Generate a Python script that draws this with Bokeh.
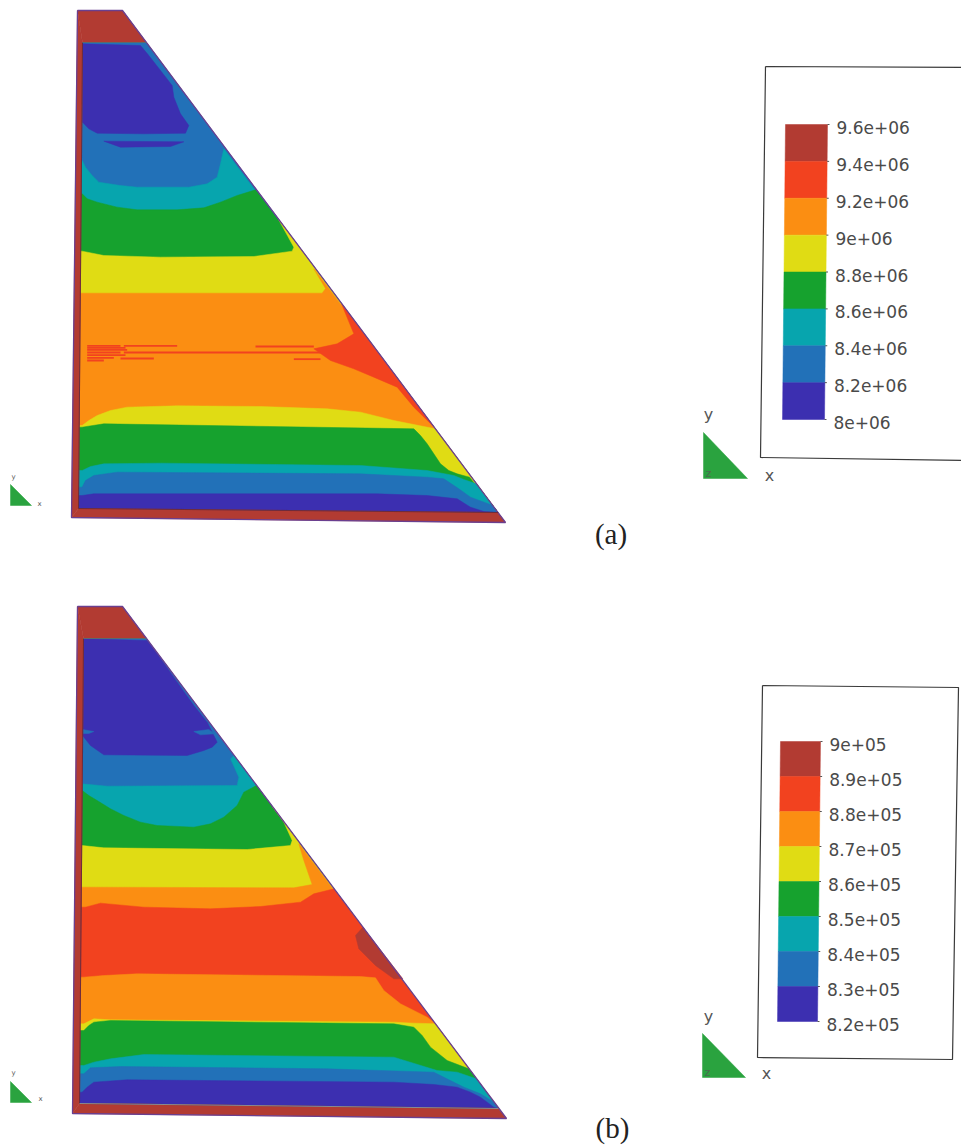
from bokeh.plotting import figure
from bokeh.models import Range1d, ColumnDataSource
from bokeh.core.properties import value
from bokeh.embed import file_html
from bokeh.resources import INLINE

W, H = 961, 1145

# Colour classes, lowest to highest
DARK, BLUE, TEAL, GREEN, YELLOW, ORANGE, RED, BROWN = (
    "#3c2fb0", "#2271b8", "#07a5ae", "#16a22e", "#e0dc14", "#fb8e12", "#f2421f", "#b23b32")
band_colors = [BROWN, RED, ORANGE, YELLOW, GREEN, TEAL, BLUE, DARK]

# Legend scales
ticks_a = [9.6e6, 9.4e6, 9.2e6, 9.0e6, 8.8e6, 8.6e6, 8.4e6, 8.2e6, 8.0e6]
labels_a = ["9.6e+06", "9.4e+06", "9.2e+06", "9e+06", "8.8e+06", "8.6e+06", "8.4e+06", "8.2e+06", "8e+06"]
ticks_b = [9.0e5, 8.9e5, 8.8e5, 8.7e5, 8.6e5, 8.5e5, 8.4e5, 8.3e5, 8.2e5]
labels_b = ["9e+05", "8.9e+05", "8.8e+05", "8.7e+05", "8.6e+05", "8.5e+05", "8.4e+05", "8.3e+05", "8.2e+05"]

# Geometry of the two sections, in page pixels
a_outer = [(77, 10), (122, 10), (505, 522), (71, 517)]
a_inner = [(82, 42), (146, 42), (497.5, 512), (78, 508)]
b_outer = [(77, 606), (122, 606), (506, 1118), (72, 1113)]
b_inner = [(83, 638), (146, 638), (498, 1108), (79, 1103)]

# Section (a), contours
a_dark_top = [(66,130),(240,135),(265,165),(300,210),(335,255),(340,290),(360,340),(385,375),(375,398),(250,400),(110,398),(85,385),(66,365)]
a_dark_streak = [(130,422),(370,424),(330,438),(180,440)]
a_teal = [(65,480),(75,500),(95,525),(115,545),(180,555),(230,560),(385,560),(440,550),(470,530),(480,490),(490,445)]
a_green = [(65,580),(80,595),(110,605),(170,620),(230,628),(350,628),(430,622),(480,605),(530,585),(585,568)]
a_yellow = [(65,752),(130,765),(300,770),(580,768),(695,752),(700,740),(653,655)]
# Section (a), contours
a_orange = [(65,38),(785,38),(795,24),(760,-35)]
a_red_right = [(843,70),(880,160),(830,190),(760,205),(810,240),(880,265),(940,290),(1010,320),(1060,380),(1121,440)]
a_streaks_y = [196, 202, 208, 216, 224, 232, 240, 196, 216, 234, 198, 236]
a_streaks_x0 = [80, 80, 80, 80, 80, 80, 80, 190, 190, 180, 585, 700]
a_streaks_x1 = [180, 195, 200, 180, 195, 160, 130, 350, 780, 280, 760, 780]
a_yellow2 = [(65,435),(85,420),(110,405),(150,390),(200,380),(350,376),(600,378),(800,385),(900,395),(1000,420),(1090,438),(1125,445)]
a_green2 = [(65,440),(130,430),(1060,445),(1080,465),(1100,490),(1140,550),(1165,570),(1190,580),(1227,590)]
a_teal2 = [(65,570),(90,558),(130,550),(300,548),(900,555),(1100,570),(1180,585),(1210,597),(1247,610)]
a_blue2 = [(65,620),(75,600),(100,585),(170,575),(900,580),(1100,590),(1150,595),(1195,625),(1230,650),(1297,675)]
a_dark2 = [(65,645),(100,640),(950,640),(1100,645),(1190,655),(1230,680),(1270,693)]

# Section (b), contours
b_dark_top = [(68,130),(260,135),(290,175),(350,260),(400,330),(440,380),(470,440),(455,455),(430,465),(380,480),(130,478),(90,450),(66,420)]
b_blue_streak1 = [(66,402),(100,408),(85,414),(66,414)]
b_blue_streak2 = [(400,408),(445,402),(462,415),(420,418)]
b_teal = [(65,565),(140,572),(530,570),(535,545),(510,490),(521,480)]
b_green = [(65,585),(85,600),(110,615),(150,640),(190,660),(240,680),(290,690),(400,695),(450,685),(490,665),(530,630),(550,590),(588,570)]
b_yellow = [(65,750),(130,757),(560,762),(690,750),(695,735),(670,680),(637,635)]
# Section (b), contours
b_orange = [(75,80),(700,82),(755,72),(730,0),(715,-50)]
b_red = [(75,140),(120,128),(250,140),(450,145),(600,138),(720,125),(760,100),(800,90),(820,85)]
b_orange2 = [(70,350),(130,345),(230,340),(900,348),(945,352),(970,390),(1020,430),(1100,470),(1125,490)]
b_brown = [(907,200),(885,225),(895,265),(945,315),(1000,355),(1027,355)]
b_yellow2 = [(70,490),(100,475),(150,478),(1000,485),(1060,488),(1125,490)]
b_green2 = [(70,510),(85,495),(100,485),(150,480),(1000,490),(1060,500),(1085,525),(1110,560),(1160,600),(1225,625),(1237,640)]
b_teal2 = [(70,615),(100,605),(150,595),(250,582),(1000,590),(1130,630),(1190,635),(1248,655)]
b_blue2 = [(70,640),(90,622),(180,618),(800,625),(1120,635),(1180,665),(1210,680),(1260,700),(1300,725)]
b_dark2 = [(65,695),(80,680),(100,665),(200,658),(1000,665),(1120,672),(1190,680),(1230,695),(1260,710),(1300,740)]


def crop(points, ox, oy):
    """Crop coordinates (3x) to page pixels."""
    return [(ox + x / 3, oy + y / 3) for x, y in points]


p = figure(width=W, height=H, x_range=Range1d(0, W), y_range=Range1d(H, 0),
           toolbar_location=None, output_backend="svg", min_border=0, outline_line_color=None)
p.axis.visible = False
p.grid.visible = False


def poly(points, color):
    p.patch([q[0] for q in points], [q[1] for q in points], fill_color=color, line_color=color, line_width=0.5)


def below(contour, inner, color):
    """Fill a band from a contour down to the base; its left edge runs just behind the wall."""
    def wall(y):
        t = (y - inner[0][1]) / (inner[3][1] - inner[0][1])
        return inner[0][0] + (inner[3][0] - inner[0][0]) * t - 2
    y0 = contour[0][1]
    poly([(wall(y0), y0)] + contour + [inner[2], (wall(inner[3][1]), inner[3][1])], color)


def section(outer, inner, layers):
    poly(inner, BLUE)
    for kind, pts, color in layers:
        if kind == "closed":
            poly(pts, color)
        else:
            below(pts, inner, color)
    poly([outer[0], outer[1], inner[1], inner[0]], BROWN)
    poly([outer[0], inner[0], inner[3], outer[3]], BROWN)
    poly([outer[3], inner[3], inner[2], outer[2]], BROWN)
    xs = [q[0] for q in outer] + [outer[0][0]]
    ys = [q[1] for q in outer] + [outer[0][1]]
    p.line(xs, ys, line_color="#6a3f8f", line_width=1.3)
    p.line([inner[0][0], inner[3][0], inner[2][0]], [inner[0][1], inner[3][1], inner[2][1]],
           line_color="#6d2b3c", line_width=1)
    p.line([inner[0][0], inner[1][0]], [inner[0][1], inner[1][1]], line_color="#5a6a70", line_width=1)


A1 = (60, 0)
A2 = (60, 280)
section(a_outer, a_inner, [
    ("closed", crop(a_dark_top, *A1), DARK),
    ("closed", crop(a_dark_streak, *A1), DARK),
    ("below", crop(a_teal, *A1), TEAL),
    ("below", crop(a_green, *A1), GREEN),
    ("below", crop(a_yellow, *A1), YELLOW),
    ("below", crop(a_orange, *A2), ORANGE),
    ("closed", crop(a_red_right, *A2), RED),
    ("below", crop(a_yellow2, *A2), YELLOW),
    ("below", crop(a_green2, *A2), GREEN),
    ("below", crop(a_teal2, *A2), TEAL),
    ("below", crop(a_blue2, *A2), BLUE),
    ("below", crop(a_dark2, *A2), DARK),
])
p.segment([60 + v / 3 for v in a_streaks_x0], [280 + v / 3 for v in a_streaks_y],
          [60 + v / 3 for v in a_streaks_x1], [280 + v / 3 for v in a_streaks_y],
          line_color=RED, line_width=1.8)

B1 = (60, 595)
B2 = (60, 860)
section(b_outer, b_inner, [
    ("closed", crop(b_dark_top, *B1), DARK),
    ("closed", crop(b_blue_streak1, *B1), BLUE),
    ("closed", crop(b_blue_streak2, *B1), BLUE),
    ("below", crop(b_teal, *B1), TEAL),
    ("below", crop(b_green, *B1), GREEN),
    ("below", crop(b_yellow, *B1), YELLOW),
    ("below", crop(b_orange, *B2), ORANGE),
    ("below", crop(b_red, *B2), RED),
    ("closed", crop(b_brown, *B2), BROWN),
    ("below", crop(b_orange2, *B2), ORANGE),
    ("below", crop(b_yellow2, *B2), YELLOW),
    ("below", crop(b_green2, *B2), GREEN),
    ("below", crop(b_teal2, *B2), TEAL),
    ("below", crop(b_blue2, *B2), BLUE),
    ("below", crop(b_dark2, *B2), DARK),
])
p.line([b_inner[3][0], b_inner[2][0]], [b_inner[3][1], b_inner[2][1]], line_color="#8a8a90", line_width=1)


def legend(ticks, labels, box, tl, tr, bl, br, label_dx, label_dy):
    p.line([q[0] for q in box] + [box[0][0]], [q[1] for q in box] + [box[0][1]],
           line_color="#3a3a3a", line_width=1.2)
    hi, lo = ticks[0], ticks[-1]
    def frac(v):
        return (hi - v) / (hi - lo)
    def left(t):
        return (tl[0] + (bl[0] - tl[0]) * t, tl[1] + (bl[1] - tl[1]) * t)
    def right(t):
        return (tr[0] + (br[0] - tr[0]) * t, tr[1] + (br[1] - tr[1]) * t)
    for k, color in enumerate(band_colors):
        t0, t1 = frac(ticks[k]), frac(ticks[k + 1])
        poly([left(t0), right(t0), right(t1), left(t1)], color)
    px = [right(frac(v))[0] for v in ticks]
    py = [right(frac(v))[1] for v in ticks]
    p.segment(px, py, [x + 2 for x in px], py, line_color="#555555", line_width=1)
    src = ColumnDataSource(dict(x=[x + label_dx for x in px], y=[y + label_dy for y in py], t=labels))
    p.text("x", "y", text="t", source=src, text_font=value("DejaVu Sans"), text_font_size="17px",
           text_color="#4a4a4a", text_baseline="middle", text_align="left")


legend(ticks_a, labels_a, [(765, 66), (968, 67), (968, 460), (760, 457)],
       (785, 124), (827, 124), (782, 419), (824, 419), 9, 3)
legend(ticks_b, labels_b, [(762, 685), (958, 687), (952, 1059), (757, 1057)],
       (780, 741), (820, 741), (777, 1021), (817, 1021), 9, 3)


def triad(tri, lab_y, lab_x, lab_z, size):
    poly(tri, "#2aa33f")
    src = ColumnDataSource(dict(x=[lab_y[0], lab_x[0]], y=[lab_y[1], lab_x[1]], t=["y", "x"]))
    p.text("x", "y", text="t", source=src, text_font=value("DejaVu Sans"), text_font_size=size,
           text_color="#555555", text_align="center", text_baseline="middle")
    if lab_z:
        p.text([lab_z[0]], [lab_z[1]], text=["z"], text_font=value("DejaVu Sans"), text_font_size="11px",
               text_color="#4a6a50", text_align="center", text_baseline="middle")


triad([(703, 432), (703, 478), (747, 478)], (708, 414), (769, 475), (708, 473), "16px")
triad([(702, 1033), (702, 1077), (745, 1077)], (708, 1016), (766, 1073), (707, 1072), "16px")
triad([(10, 484), (10, 505), (31, 505)], (13, 476), (39, 503), None, "7px")
triad([(10, 1081), (10, 1102), (31, 1102)], (13, 1072), (40, 1098), None, "7px")

p.text([610.5, 612], [533.5, 1127], text=["(a)", "(b)"], text_font=value("Liberation Serif"),
       text_font_size="29px", text_color="#222222", text_align="center", text_baseline="middle")

open("out.html", "w").write(file_html(p, INLINE))
